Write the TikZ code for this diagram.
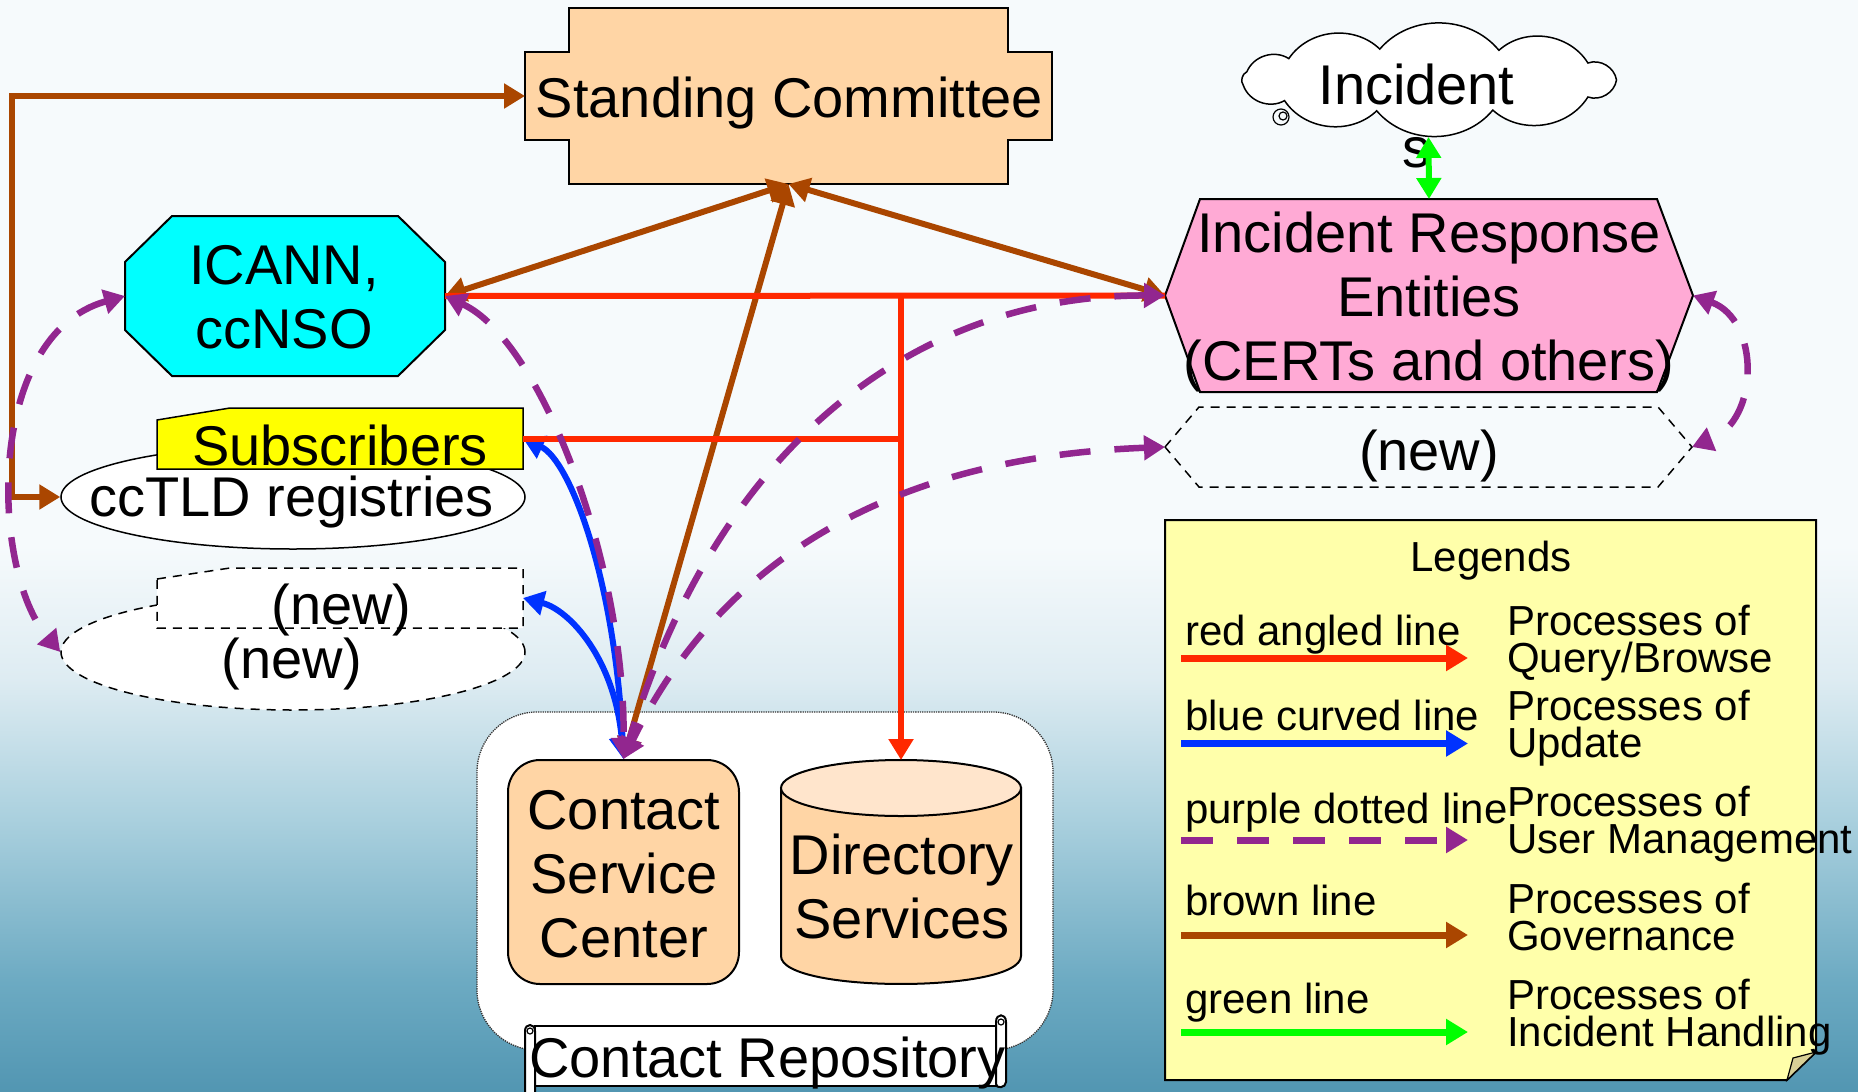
\documentclass[tikz,border=0pt]{standalone}
\usepackage{fontspec}
\setmainfont{Liberation Sans}
\usetikzlibrary{arrows.meta,shapes.geometric,calc}

\definecolor{govbrown}{RGB}{170,70,0}
\definecolor{qryred}{RGB}{255,40,0}
\definecolor{updblue}{RGB}{0,50,255}
\definecolor{usrpurple}{RGB}{146,38,143}
\definecolor{incgreen}{RGB}{0,255,0}
\definecolor{peach}{RGB}{255,213,165}
\definecolor{peachlight}{RGB}{255,229,204}
\definecolor{pinkfill}{RGB}{255,170,213}
\definecolor{aquafill}{RGB}{0,255,255}
\definecolor{lemonfill}{RGB}{255,255,0}
\definecolor{notefill}{RGB}{255,255,170}
\definecolor{notefold}{RGB}{216,208,150}
\definecolor{skyTop}{RGB}{246,250,252}
\definecolor{seaPale}{RGB}{222,236,242}
\definecolor{seaLight}{RGB}{170,208,222}
\definecolor{seaMid}{RGB}{108,170,194}
\definecolor{seaDeep}{RGB}{82,150,178}

% the visible band of a declared shading runs from 25bp (bottom) to 75bp (top)
\pgfdeclareverticalshading{seaback}{100bp}{color(0bp)=(seaDeep); color(25bp)=(seaDeep); color(30bp)=(seaMid); color(37.5bp)=(seaLight); color(44bp)=(seaPale); color(50bp)=(skyTop); color(100bp)=(skyTop)}

\pgfdeclarelayer{backdrop}
\pgfdeclarelayer{boxes}
\pgfsetlayers{backdrop,boxes,main}

\begin{document}
\begin{tikzpicture}[x=1pt,y=-1pt,
  >={Triangle[length=21pt,width=24pt]},
  frame/.style={draw=none,fill=none,rectangle,inner sep=0pt,outer sep=0pt},
  outl/.style={draw=black,line width=2pt},
  thinoutl/.style={draw=black,line width=1.5pt},
  newoutl/.style={draw=black,line width=1.5pt,dash pattern=on 9pt off 7pt},
  lbl/.style={font={\fontsize{56}{64}\selectfont},inner sep=0pt,align=center,anchor=base},
  legtxt/.style={font={\fontsize{42}{37}\selectfont},inner sep=0pt,align=left,anchor=base west},
  gov/.style={draw=govbrown,line width=6pt},
  qry/.style={draw=qryred,line width=6pt},
  upd/.style={draw=updblue,line width=6pt},
  usr/.style={draw=usrpurple,line width=6.5pt,dash pattern=on 31pt off 24pt},
  inc/.style={draw=incgreen,line width=6pt},
  legline/.style={line width=7pt,>={Triangle[length=22pt,width=25pt]}}
]
\useasboundingbox (0,0) rectangle (1858,1092);

% page backdrop
\begin{pgfonlayer}{backdrop}
  \shade[shading=seaback] (0,0) rectangle (1858,1092);
\end{pgfonlayer}

% ---------- boxes ----------
\begin{pgfonlayer}{boxes}
  % Standing Committee plaque
  \draw[outl,fill=peach] (569,8) -- (1008,8) -- (1008,52) -- (1052,52) -- (1052,140)
    -- (1008,140) -- (1008,184) -- (569,184) -- (569,140) -- (525,140) -- (525,52)
    -- (569,52) -- cycle;
  \node[frame,minimum width=527pt,minimum height=176pt] (sc) at (788.5,96) {};

  % ICANN, ccNSO octagon
  \draw[outl,fill=aquafill] (172,216) -- (398,216) -- (445,262) -- (445,330) -- (398,376)
    -- (172,376) -- (125,330) -- (125,262) -- cycle;
  \node[frame,minimum width=320pt,minimum height=160pt] (icann) at (285,296) {};

  % Incident Response Entities hexagon
  \draw[outl,fill=pinkfill] (1165,295.5) -- (1200,199) -- (1657,199) -- (1693,295.5)
    -- (1657,392) -- (1200,392) -- cycle;
  \node[frame,minimum width=528pt,minimum height=193pt] (ire) at (1429,295.5) {};

  % new entity hexagon
  \draw[newoutl] (1165,447) -- (1199,407) -- (1658,407) -- (1692,447) -- (1658,487)
    -- (1199,487) -- cycle;
  \node[frame,minimum width=527pt,minimum height=80pt] (newhex) at (1428.5,447) {};

  % incidents cloud: puffs bulging out between points on an ellipse
  \draw[thinoutl,fill=white]
    (1616.5,80) to[bend left=50] (1587.9,97) to[bend left=50] (1492.8,110.1)
    to[bend left=50] (1376.7,110.8) to[bend left=50] (1284.5,100.6)
    to[bend left=50] (1243.4,85.6) to[bend left=50] (1246.9,71.7)
    to[bend left=50] (1288.8,58.6) to[bend left=50] (1379.8,49.1)
    to[bend left=50] (1498.9,50.3) to[bend left=50] (1587.9,63)
    to[bend left=50] (1616.5,80) -- cycle;
  \node[frame,minimum width=400pt,minimum height=114pt] (incident) at (1428.5,80) {};
  \coordinate (incidentBase) at (1428.5,137);
  \draw[line width=1.2pt] (1281,117) circle[radius=8pt];
  \draw[line width=1.2pt] (1283,116) circle[radius=4pt];

  % registries and subscribers
  \node[ellipse,thinoutl,fill=white,minimum width=464pt,minimum height=104pt,inner sep=0pt]
    (cctld) at (293,497) {};
  \draw[thinoutl,fill=lemonfill] (157,420) -- (230,408) -- (523,408) -- (523,469)
    -- (157,469) -- cycle;
  \node[frame,minimum width=366pt,minimum height=61pt] (subs) at (340,438.5) {};

  % new registry / subscriber placeholders
  \node[ellipse,newoutl,fill=white,minimum width=464pt,minimum height=116pt,inner sep=0pt]
    (newell) at (293,652) {};
  \draw[newoutl,fill=white] (157,579) -- (230,568) -- (523,568) -- (523,628)
    -- (157,628) -- cycle;
  \node[frame,minimum width=366pt,minimum height=60pt] (newrect) at (340,598) {};

  % contact repository group
  \draw[densely dotted,line width=1.3pt,draw=black!80,fill=white,rounded corners=60pt]
    (477,712) rectangle (1053,1050);
  \node[frame,minimum width=576pt,minimum height=338pt] (grp) at (765,881) {};

  % contact service center
  \node[draw=black,line width=2pt,fill=peach,rounded corners=32pt,minimum width=231pt,
    minimum height=224pt,inner sep=0pt] (csc) at (623.5,872) {};

  % directory services cylinder
  \draw[outl,fill=peach] (781,788) -- (781,956) .. controls (781,993.3) and (1021,993.3)
    .. (1021,956) -- (1021,788) -- cycle;
  \draw[outl,fill=peachlight] (901,788) ellipse[x radius=120pt,y radius=28pt];
  \node[frame,minimum width=240pt,minimum height=224pt] (ds) at (901,872) {};

  % repository scroll banner
  \draw[outl,fill=white] (535,1026) rectangle (1000,1086);
  \draw[outl,fill=white] (525,1096) -- (525,1031) .. controls (525,1023) and (535,1023)
    .. (535,1031) -- (535,1096);
  \draw[line width=1.2pt] (530,1031) circle[radius=3pt];
  \draw[outl,fill=white] (996,1084) -- (996,1022) .. controls (996,1013) and (1006,1013)
    .. (1006,1022) -- (1006,1082) .. controls (1006,1088) and (996,1089) .. (996,1084);
  \draw[line width=1.2pt] (1001,1022) circle[radius=3pt];
  \node[frame,minimum width=481pt,minimum height=66pt] (repo) at (765,1059) {};

  % legend note
  \draw[outl,fill=notefill] (1165,520) -- (1816,520) -- (1816,1052) -- (1787,1080)
    -- (1165,1080) -- cycle;
  \draw[line width=1.2pt,fill=notefold] (1816,1052) -- (1793,1058) -- (1787,1080) -- cycle;
  \node[frame,minimum width=651pt,minimum height=560pt] (legend) at (1490.5,800) {};
\end{pgfonlayer}

% ---------- labels (base = baseline of the last line) ----------
\node[lbl] (scText) at (789.5,117) {Standing Committee};
\node[lbl] (icannText) at (284,348) {ICANN,\\ccNSO};
\node[lbl] (ireText) at (1429,380) {Incident Response\\Entities\\(CERTs and others)};
\node[lbl] (newhexText) at (1429,470) {(new)};
\node[lbl] (incidentText) at (1416.5,104) {Incident};
\node[lbl,anchor=base west] (incidentTail) at (1402,167) {s};
\node[lbl] (subsText) at (340,465) {Subscribers};
\node[lbl] (cctldText) at (291.5,516) {ccTLD registries};
\node[lbl] (newrectText) at (341.5,624) {(new)};
\node[lbl] (newellText) at (292,678) {(new)};
\node[lbl] (cscText) at (624,957) {Contact\\Service\\Center};
\node[lbl] (dsText) at (902,938) {Directory\\Services};
\node[lbl] (repoText) at (767.5,1077) {Contact Repository};

% ---------- governance (brown) ----------
\coordinate (govbend) at (12,497);
\draw[gov,<->] (sc.west) -| (govbend) -- (cctld.west);
\draw[gov,<->] (sc.south) -- (icann.east);
\draw[gov,<->] (sc.south) -- (ire.west);
\draw[gov,<->] (sc.south) -- (csc.north);

% ---------- update (blue) ----------
\draw[upd,<->] (subs.east) .. controls (570,460) and (615,580) .. (csc.north);
\draw[upd,<->] (csc.north) .. controls (615,660) and (570,610) .. (newrect.east);

% ---------- query / browse (red) ----------
\coordinate (qryhub) at (icann.east -| ds.north);
\draw[qry] (icann.east) -- (ire.west);
\draw[qry,->] (qryhub) -- (ds.north);
\draw[qry] (subs.east) -- (subs.east -| ds.north);

% ---------- user management (purple) ----------
\draw[usr,<->] (icann.east) .. controls (540,340) and (625,560) .. (csc.north);
\draw[usr,<->] (ire.west) .. controls (920,295) and (720,440) .. (csc.north);
\draw[usr,<->] (newhex.west) .. controls (950,455) and (740,520) .. (csc.north);
\draw[usr,<->] (icann.west) .. controls (-15,335) and (-10,570) .. (newell.west);
\draw[usr,<->] (ire.east) .. controls (1760,320) and (1760,420) .. (newhex.east);

% ---------- incident handling (green) ----------
\draw[inc,<->] (incidentBase) -- (ire.north);

% ---------- legend ----------
\node[lbl,font={\fontsize{42}{37}\selectfont}] (legTitle) at (1491,571) {Legends};

\node[legtxt] (legRedTxt) at (1185,645) {red angled line};
\node[legtxt] (legRedDesc) at (1507,672) {Processes of\\Query/Browse};
\coordinate (legRedA) at (1181,658);
\coordinate (legRedB) at (1468,658);
\draw[legline,draw=qryred,->] (legRedA) -- (legRedB);

\node[legtxt] (legBlueTxt) at (1185,730) {blue curved line};
\node[legtxt] (legBlueDesc) at (1507,757) {Processes of\\Update};
\coordinate (legBlueA) at (1181,743.5);
\coordinate (legBlueB) at (1468,743.5);
\draw[legline,draw=updblue,->] (legBlueA) -- (legBlueB);

\node[legtxt] (legPurpleTxt) at (1185,823) {purple dotted line};
\node[legtxt] (legPurpleDesc) at (1507,853) {Processes of\\User Management};
\coordinate (legPurpleA) at (1181,840);
\coordinate (legPurpleB) at (1468,840);
\draw[legline,draw=usrpurple,dash pattern=on 32pt off 24pt,->] (legPurpleA) -- (legPurpleB);

\node[legtxt] (legBrownTxt) at (1185,915) {brown line};
\node[legtxt] (legBrownDesc) at (1507,950) {Processes of\\Governance};
\coordinate (legBrownA) at (1181,935);
\coordinate (legBrownB) at (1468,935);
\draw[legline,draw=govbrown,->] (legBrownA) -- (legBrownB);

\node[legtxt] (legGreenTxt) at (1185,1013) {green line};
\node[legtxt] (legGreenDesc) at (1507,1046) {Processes of\\Incident Handling};
\coordinate (legGreenA) at (1181,1032);
\coordinate (legGreenB) at (1468,1032);
\draw[legline,draw=incgreen,->] (legGreenA) -- (legGreenB);
\end{tikzpicture}
\end{document}
